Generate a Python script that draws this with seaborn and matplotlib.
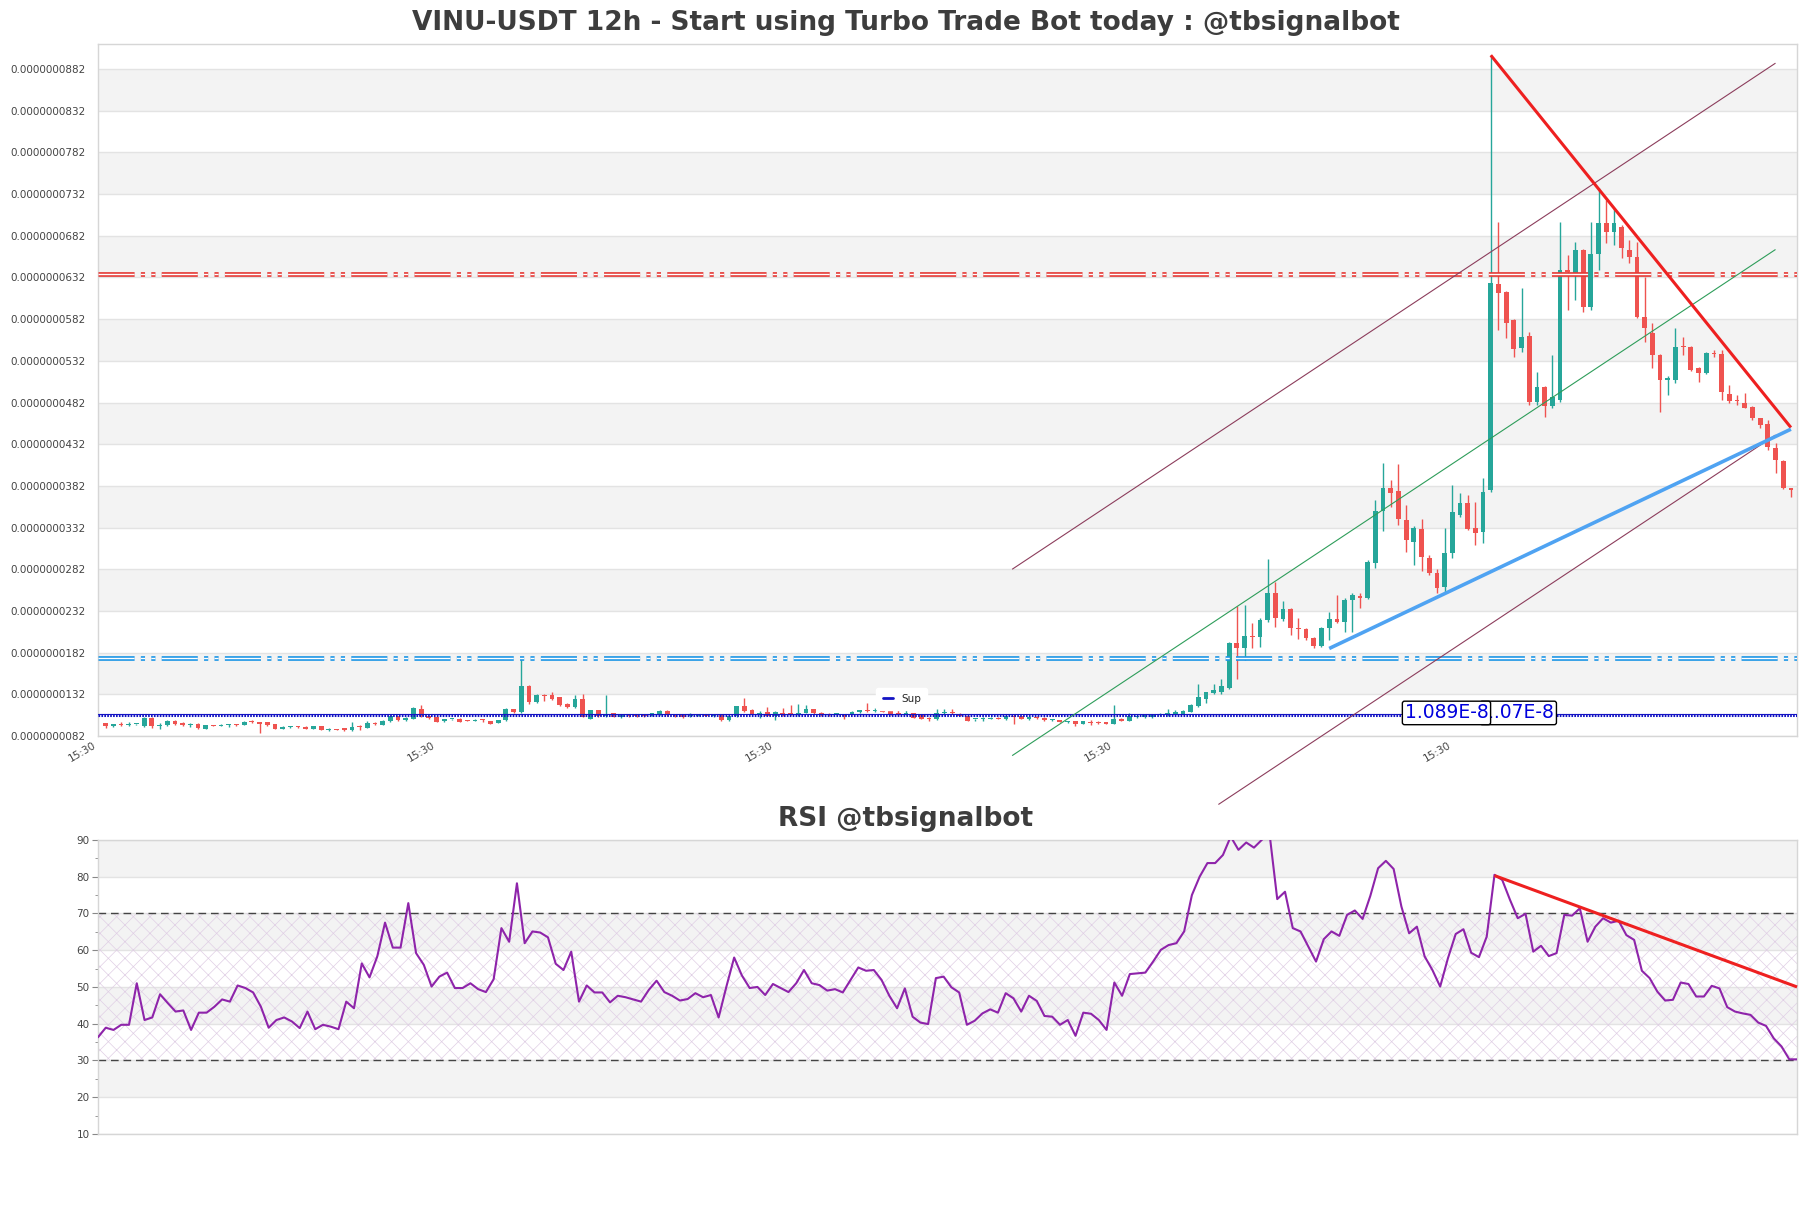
import matplotlib
matplotlib.use("Agg")
import matplotlib.pyplot as plt
from matplotlib.lines import Line2D
import numpy as np
import pandas as pd
import seaborn as sns

# prices are read in units of 1e-9 USDT
unit = 1e-9

opens = [
    9.72, 9.45, 9.6, 9.55, 9.6, 9.45, 10.4, 9.45, 9.55, 10.0,
    9.8, 9.55, 9.6, 9.1, 9.5, 9.45, 9.5, 9.6, 9.55, 9.9,
    9.85, 9.85, 9.6, 9.1, 9.25, 9.28, 9.3, 9.1, 9.4, 8.95,
    9.0, 9.15, 8.95, 9.3, 9.2, 9.8, 9.55, 9.95, 10.55, 10.15,
    10.3, 11.5, 10.6, 10.45, 9.95, 10.2, 10.3, 10.05, 10.05, 10.15,
    10.0, 9.8, 10.1, 11.45, 11.1, 14.2, 12.3, 13.15, 13.1, 12.85,
    12.1, 11.7, 12.7, 10.3, 11.3, 10.6, 10.95, 10.5, 10.7, 10.65,
    10.7, 10.6, 10.8, 11.25, 10.8, 10.7, 10.6, 10.65, 10.8, 10.55,
    10.7, 10.1, 10.6, 11.75, 11.3, 10.9, 11.1, 10.65, 10.95, 10.95,
    10.7, 11.0, 11.4, 11.0, 10.9, 10.8, 10.8, 10.9, 11.05, 11.3,
    11.25, 11.35, 11.2, 10.95, 10.8, 10.95, 10.7, 10.35, 10.2, 10.95,
    11.0, 10.9, 10.65, 10.2, 10.25, 10.3, 10.35, 10.2, 10.55, 10.6,
    10.2, 10.5, 10.4, 10.1, 10.1, 9.85, 9.95, 9.65, 9.85, 9.85,
    9.85, 9.65, 10.3, 10.05, 10.5, 10.45, 10.45, 10.7, 10.7, 10.85,
    10.85, 11.1, 11.8, 12.7, 13.4, 13.5, 14.0, 19.3, 18.7, 20.2,
    20.05, 22.1, 25.4, 22.2, 23.4, 21.2, 21.0, 20.0, 19.0, 21.2,
    22.2, 21.9, 24.5, 25.0, 24.7, 29.0, 35.2, 37.9, 37.6, 34.1,
    31.5, 33.0, 29.6, 27.8, 26.1, 30.1, 34.7, 36.1, 33.2, 32.7,
    37.7, 62.4, 61.5, 58.1, 54.7, 56.2, 48.3, 50.1, 47.8, 48.5,
    64.1, 63.7, 66.5, 59.7, 66.0, 69.7, 68.7, 69.3, 66.5, 65.7,
    58.5, 56.5, 53.9, 50.9, 50.9, 55.0, 54.9, 52.3, 51.7, 54.1,
    54.0, 49.2, 48.5, 48.2, 47.7, 46.3, 45.6, 42.8, 41.2, 37.9,
]
highs = [
    9.8, 9.7, 9.87, 9.85, 9.7, 10.5, 10.5, 9.8, 10.15, 10.1,
    9.9, 9.8, 9.8, 9.55, 9.55, 9.6, 9.7, 9.65, 9.95, 10.1,
    9.9, 9.9, 9.65, 9.4, 9.35, 9.4, 9.4, 9.45, 9.45, 9.2,
    9.05, 9.2, 9.85, 9.55, 9.95, 9.9, 10.1, 10.7, 10.6, 10.45,
    11.65, 11.9, 10.65, 10.5, 10.3, 10.3, 10.35, 10.1, 10.3, 10.3,
    10.05, 10.15, 11.55, 11.5, 17.55, 14.3, 13.2, 13.2, 13.5, 12.9,
    12.15, 13.1, 13.3, 11.35, 11.35, 13.1, 11.0, 10.75, 10.8, 10.8,
    10.8, 11.0, 11.3, 11.3, 10.85, 10.75, 10.95, 10.9, 10.85, 10.75,
    10.75, 10.65, 11.8, 12.8, 11.45, 11.2, 11.7, 11.2, 11.6, 11.9,
    12.0, 11.9, 11.45, 11.1, 11.0, 11.0, 10.9, 11.2, 11.35, 12.2,
    11.6, 11.5, 11.3, 11.3, 11.5, 11.0, 10.75, 10.5, 11.45, 11.5,
    11.5, 11.0, 10.7, 10.3, 10.5, 10.45, 10.45, 10.6, 10.85, 10.65,
    10.6, 10.6, 10.45, 10.3, 10.15, 10.0, 10.0, 10.0, 10.1, 10.05,
    9.9, 11.9, 10.35, 11.0, 10.65, 10.9, 10.8, 10.95, 11.4, 11.3,
    11.35, 12.0, 14.4, 13.5, 14.4, 15.0, 19.5, 23.8, 23.9, 21.7,
    22.3, 29.4, 26.7, 24.4, 23.5, 22.4, 21.1, 20.1, 21.3, 23.1,
    25.1, 24.8, 25.3, 25.3, 29.3, 36.5, 40.9, 38.9, 40.8, 35.9,
    33.4, 34.2, 29.9, 28.2, 33.1, 38.3, 37.3, 37.1, 36.3, 39.1,
    89.85, 69.9, 61.6, 58.2, 61.9, 56.7, 51.9, 50.2, 53.9, 69.9,
    65.9, 67.5, 66.6, 69.9, 73.9, 72.5, 71.5, 69.5, 67.7, 67.5,
    63.2, 57.7, 54.0, 51.4, 57.1, 56.1, 55.0, 52.4, 54.2, 54.5,
    54.5, 50.3, 49.1, 49.3, 47.8, 46.4, 46.1, 43.3, 41.3, 38.0,
]
lows = [
    9.2, 9.24, 9.36, 9.4, 9.55, 9.3, 9.2, 9.1, 9.35, 9.5,
    9.45, 9.3, 9.07, 9.05, 9.4, 9.4, 9.3, 9.45, 9.5, 9.8,
    8.6, 9.45, 9.0, 9.1, 9.2, 9.15, 9.0, 9.05, 8.9, 8.8,
    8.9, 8.8, 8.8, 8.9, 9.15, 9.55, 9.5, 9.9, 10.0, 10.05,
    10.2, 10.5, 10.2, 9.85, 9.9, 10.15, 9.85, 9.95, 9.95, 9.9,
    9.6, 9.75, 10.05, 11.0, 11.0, 12.1, 12.2, 12.45, 12.5, 11.8,
    11.6, 11.6, 10.45, 10.2, 10.5, 10.5, 10.45, 10.4, 10.45, 10.5,
    10.45, 10.55, 10.75, 10.6, 10.5, 10.4, 10.5, 10.6, 10.55, 10.5,
    10.05, 10.0, 10.5, 11.1, 10.8, 10.4, 10.6, 10.1, 10.6, 10.7,
    10.65, 10.95, 10.85, 10.6, 10.6, 10.75, 10.3, 10.85, 11.0, 11.1,
    11.1, 11.05, 10.7, 10.6, 10.7, 10.35, 10.2, 10.0, 10.15, 10.7,
    10.8, 10.6, 10.0, 9.95, 9.95, 10.2, 10.2, 10.15, 9.65, 10.25,
    10.15, 10.3, 10.05, 10.05, 9.85, 9.8, 9.45, 9.6, 9.5, 9.6,
    9.6, 9.6, 10.0, 10.0, 10.4, 10.4, 10.4, 10.65, 10.65, 10.8,
    10.8, 11.05, 11.65, 12.2, 13.2, 13.3, 13.9, 15.1, 17.3, 18.8,
    18.9, 21.9, 21.3, 22.0, 20.3, 19.8, 19.7, 18.8, 18.9, 19.7,
    21.7, 20.7, 20.7, 23.5, 24.6, 28.3, 32.8, 35.7, 33.5, 30.3,
    28.7, 28.0, 27.5, 25.4, 25.5, 29.5, 34.5, 32.9, 31.1, 31.3,
    37.5, 56.9, 55.9, 53.7, 54.3, 47.9, 47.9, 46.5, 47.6, 48.3,
    59.3, 60.5, 59.1, 59.3, 64.1, 67.3, 67.1, 65.5, 64.9, 58.3,
    55.5, 52.3, 47.1, 49.1, 50.5, 53.9, 52.0, 50.7, 51.6, 53.6,
    48.5, 48.1, 47.9, 47.5, 46.1, 45.1, 42.5, 39.7, 37.8, 36.9,
]
closes = [
    9.40, 9.6, 9.55, 9.6, 9.63, 10.4, 9.45, 9.55, 10.05, 9.65,
    9.55, 9.6, 9.15, 9.5, 9.45, 9.55, 9.52, 9.5, 9.9, 9.85,
    9.65, 9.55, 9.1, 9.25, 9.28, 9.25, 9.1, 9.4, 8.95, 9.0,
    8.95, 8.95, 9.3, 9.25, 9.8, 9.6, 10.0, 10.55, 10.1, 10.35,
    11.55, 10.6, 10.35, 9.9, 10.25, 10.25, 9.9, 10.0, 10.1, 10.1,
    9.7, 10.1, 11.45, 11.1, 14.2, 12.3, 13.1, 13.05, 12.7, 11.9,
    11.7, 12.7, 10.5, 11.3, 10.6, 10.8, 10.5, 10.7, 10.55, 10.6,
    10.55, 10.95, 11.25, 10.7, 10.6, 10.5, 10.85, 10.8, 10.6, 10.7,
    10.1, 10.6, 11.75, 11.2, 10.85, 10.95, 10.65, 11.1, 10.7, 10.8,
    11.0, 11.4, 10.95, 10.7, 10.7, 10.95, 10.65, 11.1, 11.3, 11.25,
    11.3, 11.1, 10.8, 10.7, 11.0, 10.4, 10.3, 10.3, 11.0, 11.1,
    10.95, 10.65, 10.05, 10.25, 10.3, 10.35, 10.3, 10.55, 10.5, 10.3,
    10.5, 10.35, 10.1, 10.2, 9.9, 9.95, 9.65, 9.95, 9.8, 9.8,
    9.65, 10.3, 10.05, 10.65, 10.55, 10.8, 10.7, 10.8, 11.0, 11.1,
    11.25, 11.9, 12.85, 13.5, 13.7, 14.2, 19.4, 18.7, 20.2, 20.05,
    22.1, 25.4, 22.3, 23.4, 21.2, 21.0, 19.9, 19.0, 21.2, 22.2,
    21.9, 24.5, 25.1, 24.7, 29.1, 35.2, 37.9, 37.3, 34.2, 31.7,
    33.1, 29.7, 27.8, 25.9, 30.2, 35.1, 36.1, 33.0, 32.6, 37.5,
    62.5, 61.3, 57.75, 54.6, 56.0, 48.3, 50.1, 47.8, 48.9, 64.1,
    63.9, 66.5, 59.7, 66.0, 69.7, 68.7, 69.7, 66.7, 65.6, 58.5,
    57.1, 53.9, 50.9, 51.1, 54.9, 54.9, 52.1, 51.7, 54.1, 54.0,
    49.5, 48.4, 48.4, 47.6, 46.3, 45.5, 42.9, 41.3, 37.9, 37.7,
]

rsi_values = [
    36.3, 38.9, 38.3, 39.7, 39.7, 51.0, 41.0, 41.7, 48.0, 45.6,
    43.3, 43.6, 38.3, 43.0, 43.0, 44.6, 46.6, 46.0, 50.4, 49.7,
    48.5, 44.6, 38.9, 41.0, 41.7, 40.6, 38.8, 43.3, 38.5, 39.7,
    39.2, 38.5, 46.0, 44.2, 56.4, 52.6, 58.3, 67.5, 60.7, 60.7,
    72.8, 59.2, 56.0, 50.1, 52.8, 53.9, 49.7, 49.7, 51.0, 49.4,
    48.6, 52.1, 66.0, 62.3, 78.2, 61.9, 65.1, 64.8, 63.5, 56.3,
    54.6, 59.6, 46.0, 50.4, 48.5, 48.5, 45.8, 47.6, 47.2, 46.6,
    46.0, 49.2, 51.7, 48.6, 47.6, 46.3, 46.7, 48.3, 47.2, 47.8,
    41.7, 50.1, 58.0, 53.1, 49.7, 50.0, 47.8, 50.8, 49.7, 48.6,
    51.0, 54.6, 51.0, 50.5, 49.0, 49.4, 48.5, 51.9, 55.3, 54.4,
    54.6, 51.9, 47.6, 44.2, 49.6, 41.9, 40.3, 39.9, 52.4, 52.8,
    49.9, 48.5, 39.7, 40.8, 42.8, 43.9, 43.0, 48.3, 46.9, 43.3,
    47.6, 46.2, 42.1, 41.9, 39.7, 41.0, 36.7, 43.0, 42.7, 41.0,
    38.3, 51.2, 47.6, 53.5, 53.7, 53.9, 56.9, 60.1, 61.4, 61.9,
    65.1, 75.0, 80.0, 83.7, 83.7, 85.9, 90.9, 87.3, 89.3, 87.9,
    90.0, 91.8, 73.9, 75.9, 66.0, 65.1, 61.0, 56.9, 63.0, 65.1,
    63.9, 69.6, 70.8, 68.5, 74.8, 82.3, 84.3, 82.1, 71.9, 64.6,
    66.4, 58.3, 54.6, 50.1, 57.8, 64.4, 65.7, 59.3, 58.1, 63.7,
    80.5, 79.1, 73.7, 68.7, 69.9, 59.6, 61.2, 58.4, 59.2, 69.6,
    69.4, 71.4, 62.3, 66.4, 68.7, 67.5, 68.0, 64.1, 62.8, 54.4,
    52.4, 48.7, 46.3, 46.5, 51.2, 50.8, 47.4, 47.4, 50.3, 49.6,
    44.5, 43.3, 42.8, 42.4, 40.3, 39.4, 36.0, 33.8, 30.3, 30.3,
]

# horizontal levels (1e-9 units)
resistance_level = 63.65
zone_level = 17.6
sup_levels = [10.89, 10.70]
sup_texts = ["1.089E-8", "1.07E-8"]
sup_text_x = [168.8, 178.9]

# trend lines: (start index, start price, end index, end price)
red_trend = (180, 89.85, 219, 45.2)
blue_trend = (159, 18.7, 219, 45.0)
channel_upper = (117.8, 28.2, 217, 88.9)
channel_mid = (117.8, 5.85, 217, 66.55)
channel_lower = (144.6, -0.01, 217, 44.3)
rsi_trend = (180, 80.3, 219, 50.0)

tick_idx = [-1, 43, 87, 131, 175]
tick_labels = ["15:30", "15:30", "15:30", "15:30", "15:30"]
price_ticks = [8.2 + 5 * k for k in range(17)]
rsi_ticks = [10, 20, 30, 40, 50, 60, 70, 80, 90]

title = "VINU-USDT 12h - Start using Turbo Trade Bot today : @tbsignalbot"
rsi_title = "RSI @tbsignalbot"

# =========================================
# setup
# =========================================
sns.set_theme(style="white")
plt.rcParams["font.family"] = ["DejaVu Sans"]
plt.rcParams["lines.scale_dashes"] = False
plt.rcParams["hatch.linewidth"] = 0.5

df = pd.DataFrame({
    "open": np.array(opens) * unit,
    "high": np.array(highs) * unit,
    "low": np.array(lows) * unit,
    "close": np.array(closes) * unit,
})
df["idx"] = np.arange(len(df))
df["rsi"] = rsi_values

green = "#26a69a"
red = "#ef5350"
band = "#f3f3f3"
gridc = "#e3e3e3"
spinec = "#d6d6d6"
labelc = "#444444"

fig = plt.figure(figsize=(18.11, 12.08), dpi=100)
ax = fig.add_axes([0.0541, 0.3907, 0.9382, 0.5729])
ax_rsi = fig.add_axes([0.0541, 0.0613, 0.9382, 0.2434])

# =========================================
# price panel
# =========================================
ticks = [round(t * unit, 12) for t in price_ticks]
for k in range(1, len(ticks) - 1, 2):
    ax.axhspan(ticks[k], ticks[k + 1], color=band, lw=0, zorder=0)
for t in ticks:
    ax.axhline(t, color=gridc, lw=1, zorder=0.5)

up = df["close"] >= df["open"]
colors = np.where(up, green, red)
body_low = df[["open", "close"]].min(axis=1)
body_h = (df["close"] - df["open"]).abs().clip(lower=0.12 * unit)

ax.vlines(df["idx"], df["low"], df["high"], colors=colors, lw=1, zorder=3)
ax.bar(df["idx"], body_h, bottom=body_low, width=0.62, color=colors,
       lw=0, zorder=3)


def level_line(a, y, color):
    a.axhline(y, color=color, lw=3.4, dashes=(26, 4.5, 3, 4.5, 3, 4.5),
              zorder=4)
    a.axhline(y, color="white", lw=1.0, dashes=(26, 4.5, 3, 4.5, 3, 4.5),
              zorder=4.1)


level_line(ax, resistance_level * unit, "#e53935")
level_line(ax, zone_level * unit, "#1e96e6")

ax.axhline(sup_levels[1] * unit, color="#1414c4", lw=2.2,
           dashes=(1.2, 0.9), zorder=4)
ax.axhline(sup_levels[0] * unit, color="#1414c4", lw=0.8, zorder=4)


def trend(a, seg, color, lw, scale=unit):
    a.plot([seg[0], seg[2]], [seg[1] * scale, seg[3] * scale], color=color,
           lw=lw, clip_on=False, zorder=5, solid_capstyle="butt")


trend(ax, channel_upper, "#8c3d5c", 0.8)
trend(ax, channel_mid, "#2e9d5a", 0.8)
trend(ax, channel_lower, "#8c3d5c", 0.8)
trend(ax, red_trend, "#ee2020", 2.2)
trend(ax, blue_trend, "#4fa3f2", 2.6)

# the second label is drawn first so the first box sits on top of it
for x, txt, z in zip(sup_text_x[::-1], sup_texts[::-1], [6, 7]):
    ax.text(x, 10.97 * unit, txt, color="#0000dd", fontsize=13.5,
            ha="left", va="center", zorder=z,
            bbox=dict(boxstyle="round,pad=0.12", fc="white", ec="black",
                      lw=1))

sup_handle = Line2D([], [], color="#1414c4", lw=2, label="Sup")
leg = ax.legend(handles=[sup_handle], loc="lower left",
                bbox_to_anchor=(0.455, 0.03), fontsize=7.5,
                frameon=True, handlelength=1.0, borderpad=0.6)
leg.get_frame().set_edgecolor("white")
leg.get_frame().set_facecolor("white")
leg.get_frame().set_alpha(1)
leg.set_zorder(10)

ax.set_xlim(-1, 219.8)
ax.set_ylim(8.2 * unit, 91.2 * unit)
ax.set_yticks(ticks)
ax.set_yticklabels([f"{t:.10f}" for t in ticks])
ax.set_xticks(tick_idx)
ax.set_xticklabels(tick_labels, rotation=30, ha="right")
ax.tick_params(axis="y", length=0, pad=9, labelsize=7.5, labelcolor=labelc)
ax.tick_params(axis="x", length=0, pad=3, labelsize=7.5, labelcolor=labelc)
for sp in ax.spines.values():
    sp.set_color(spinec)
    sp.set_linewidth(1)

# =========================================
# RSI panel
# =========================================
for lo in [20, 40, 60, 80]:
    ax_rsi.axhspan(lo, lo + 10, color=band, lw=0, zorder=0)
for t in rsi_ticks:
    ax_rsi.axhline(t, color=gridc, lw=1, zorder=0.5)

ax_rsi.fill_between([0, len(df) - 1], 30, 70, facecolor="none",
                    edgecolor="#e0cfe5", hatch="xx", lw=0, zorder=1)
ax_rsi.axhline(70, color="#444444", lw=1, dashes=(5.5, 3.5), zorder=2)
ax_rsi.axhline(30, color="#444444", lw=1, dashes=(5.5, 3.5), zorder=2)

sns.lineplot(data=df, x="idx", y="rsi", ax=ax_rsi, color="#8e24aa",
             lw=1.5, zorder=3)
trend(ax_rsi, rsi_trend, "#ee2020", 2.2, scale=1)

ax_rsi.set_xlim(0, len(df) - 1)
ax_rsi.set_ylim(10, 90)
ax_rsi.set_xticks([])
ax_rsi.set_yticks(rsi_ticks)
ax_rsi.set_yticks([15, 25, 35, 45, 55, 65, 75, 85], minor=True)
ax_rsi.set_xlabel("")
ax_rsi.set_ylabel("")
ax_rsi.tick_params(axis="y", which="major", left=True, length=4, width=0.8,
                   color="#888888", pad=2, labelsize=7.5, labelcolor=labelc)
ax_rsi.tick_params(axis="y", which="minor", left=True, length=2, width=0.6,
                   color="#888888")
for sp in ax_rsi.spines.values():
    sp.set_color(spinec)
    sp.set_linewidth(1)

ax.set_xlabel("")
ax.set_ylabel("")

fig.text(0.5, 0.981, title, ha="center", va="center", fontsize=19,
         fontweight="bold", color="#3d3d3d")
fig.text(0.5, 0.322, rsi_title, ha="center", va="center", fontsize=19,
         fontweight="bold", color="#3d3d3d")

fig.savefig("out.png", dpi=100, facecolor="white")
